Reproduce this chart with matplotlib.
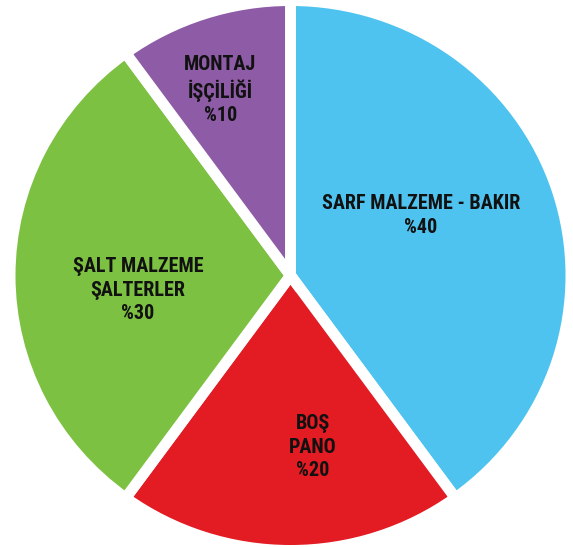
import matplotlib.pyplot as plt

labels = ['SARF MALZEME - BAKIR', 'BOŞ\nPANO', 'ŞALT MALZEME\nŞALTERLER', 'MONTAJ\nİŞÇİLİĞİ']
shares = [40, 20, 30, 10]
colors = ['#4fc3ef', '#e31b23', '#7dc142', '#8e5ba6']

# centre of each label block (data coords, pie radius = 1)
label_xy = [(0.465, 0.218), (0.080, -0.624), (-0.544, -0.053), (-0.250, 0.675)]

fig = plt.figure(figsize=(5.73, 5.47), dpi=100)
ax = fig.add_axes([0, 0, 1, 1])

ax.pie(shares, colors=colors, startangle=90, counterclock=False,
       wedgeprops=dict(edgecolor='white', linewidth=7.9))

for lab, val, (x, y) in zip(labels, shares, label_xy):
    ax.text(x, y, f'{lab}\n%{val}', ha='center', va='center',
            family=['Roboto Condensed', 'DejaVu Sans'], weight='bold',
            fontsize=14.5, linespacing=1.3, color='#111111')

# slightly wider than tall, like the printed chart
ax.set_aspect('auto')
ax.set_xlim(-1.0357, 1.0071)
ax.set_ylim(-0.9873, 1.0018)
ax.axis('off')

fig.savefig('out.png', dpi=100, facecolor='white')
